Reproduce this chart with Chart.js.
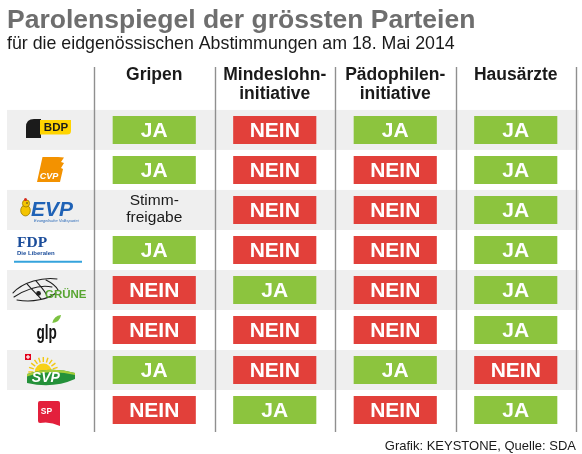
<!DOCTYPE html>
<html>
<head>
<meta charset="utf-8">
<script src="https://cdn.jsdelivr.net/npm/chart.js@4.4.1/dist/chart.umd.min.js"></script>
<style>
html,body{margin:0;padding:0;background:#fff;}
#wrap{width:582px;height:454px;}
</style>
</head>
<body>
<div id="wrap"><canvas id="c" width="582" height="454"></canvas></div>
<script>
// ---- data ----
const parties = ["BDP", "CVP", "EVP", "FDP", "GRÜNE", "glp", "SVP", "SP"];
const votes = [["Gripen"], ["Mindeslohn-", "initiative"], ["Pädophilen-", "initiative"], ["Hausärzte"]];
const gripen      = ["JA", "JA", "Stimmfreigabe", "JA", "NEIN", "NEIN", "JA", "NEIN"];
const mindestlohn = ["NEIN", "NEIN", "NEIN", "NEIN", "JA", "NEIN", "NEIN", "JA"];
const paedophilen = ["JA", "NEIN", "NEIN", "NEIN", "NEIN", "NEIN", "JA", "NEIN"];
const hausaerzte  = ["JA", "JA", "JA", "JA", "JA", "JA", "NEIN", "JA"];
const paroleLabels = { JA: ["JA"], NEIN: ["NEIN"], Stimmfreigabe: ["Stimm-", "freigabe"] };
const titleText = "Parolenspiegel der grössten Parteien";
const subtitleText = "für die eidgenössischen Abstimmungen am 18. Mai 2014";
const sourceText = "Grafik: KEYSTONE, Quelle: SDA";
const logoSubtexts = { EVP: "Evangelische Volkspartei", FDP: "Die Liberalen" };

// ---- styles ----
const FONT = "'Liberation Sans', Arial, Helvetica, sans-serif";
const SERIF = "'Liberation Serif', 'Times New Roman', serif";
const colorFor = { JA: "#8cc43e", NEIN: "#e2403a", Stimmfreigabe: "rgba(0,0,0,0)" };
const BAR_HALF = 0.345;
const series = [gripen, mindestlohn, paedophilen, hausaerzte];

function txt(ctx, s, x, y, font, color, align, base) {
  ctx.font = font; ctx.fillStyle = color;
  ctx.textAlign = align || "center"; ctx.textBaseline = base || "middle";
  ctx.fillText(s, x, y);
}
function poly(ctx, cx, cy, pts, color) {
  ctx.fillStyle = color; ctx.beginPath();
  pts.forEach((p, i) => i ? ctx.lineTo(cx + p[0], cy + p[1]) : ctx.moveTo(cx + p[0], cy + p[1]));
  ctx.closePath(); ctx.fill();
}

const logos = {
  BDP(ctx, cx, cy, name) {
    ctx.fillStyle = "#1b1b1b";
    ctx.beginPath();
    ctx.moveTo(cx - 22, cy + 8); ctx.lineTo(cx - 22, cy - 3);
    ctx.quadraticCurveTo(cx - 22, cy - 11, cx - 14, cy - 11);
    ctx.lineTo(cx - 7, cy - 11); ctx.lineTo(cx - 7, cy + 8); ctx.closePath(); ctx.fill();
    ctx.fillStyle = "#ffd400";
    ctx.beginPath();
    ctx.moveTo(cx - 8, cy - 10); ctx.lineTo(cx + 23, cy - 10); ctx.lineTo(cx + 23, cy + 1);
    ctx.quadraticCurveTo(cx + 23, cy + 4.5, cx + 19, cy + 4.5);
    ctx.lineTo(cx - 8, cy + 4.5); ctx.closePath(); ctx.fill();
    txt(ctx, name, cx + 8, cy - 2.5, "bold 11.5px " + FONT, "#1b1b1b");
  },
  CVP(ctx, cx, cy, name) {
    poly(ctx, cx, cy, [[-5.5, -13], [10, -13], [16, -12.5], [13, -8], [16, -7], [13, -2], [15, -1], [12, 12], [-11, 12]], "#f39200");
    txt(ctx, name, cx + 1, cy + 7, "italic bold 9px " + FONT, "#ffffff");
  },
  EVP(ctx, cx, cy, name) {
    ctx.fillStyle = "#f4c400"; ctx.strokeStyle = "#9a7a00"; ctx.lineWidth = 0.8;
    ctx.beginPath(); ctx.ellipse(cx - 22.5, cy + 0.5, 4.8, 5.5, 0, 0, Math.PI * 2); ctx.fill(); ctx.stroke();
    ctx.beginPath(); ctx.arc(cx - 22, cy - 6.5, 3.6, 0, Math.PI * 2); ctx.fill(); ctx.stroke();
    ctx.fillStyle = "#d62b1e"; ctx.beginPath(); ctx.arc(cx - 22.5, cy - 10.5, 1.5, 0, Math.PI * 2); ctx.fill();
    ctx.fillStyle = "#333"; ctx.beginPath(); ctx.arc(cx - 21, cy - 7, 0.8, 0, Math.PI * 2); ctx.fill();
    txt(ctx, name, cx - 17, cy + 0.5, "italic bold 21px " + FONT, "#1f62b6", "left");
    txt(ctx, logoSubtexts[name], cx - 14, cy + 11, "italic 4px " + FONT, "#1f62b6", "left");
  },
  FDP(ctx, cx, cy, name) {
    txt(ctx, name, cx - 31, cy - 2.7, "bold 15.5px " + SERIF, "#1a4c9a", "left", "alphabetic");
    txt(ctx, logoSubtexts[name], cx - 31, cy + 3.5, "bold 6px " + FONT, "#1a4c9a", "left");
    ctx.strokeStyle = "#35a3dc"; ctx.lineWidth = 2;
    ctx.beginPath(); ctx.moveTo(cx - 34, cy + 11.7); ctx.lineTo(cx + 34, cy + 11.7); ctx.stroke();
  },
  "GRÜNE"(ctx, cx, cy, name) {
    ctx.strokeStyle = "#1e1e1e"; ctx.lineWidth = 1.1; ctx.lineCap = "round";
    const curves = [
      [-35, 3, -25, -8, -5, -13, 9, -11],
      [-34, 7, -20, -2, -6, -5, 4, -3],
      [-31, 10, -15, 13, 0, 9, 8, 3],
      [-21, -6, -16, 0, -11, 4, -7, 9],
      [-12, -9, -8, -4, -4, 0, -2, 4],
      [-2, -10, 4, -7, 8, -4, 10, 0]
    ];
    curves.forEach(c => {
      ctx.beginPath(); ctx.moveTo(cx + c[0], cy + c[1]);
      ctx.bezierCurveTo(cx + c[2], cy + c[3], cx + c[4], cy + c[5], cx + c[6], cy + c[7]); ctx.stroke();
    });
    ctx.fillStyle = "#1e1e1e"; ctx.beginPath(); ctx.arc(cx - 9.5, cy + 3.5, 2.4, 0, Math.PI * 2); ctx.fill();
    txt(ctx, name, cx - 3, cy + 4.7, "bold 11.5px " + FONT, "#58a531", "left");
  },
  glp(ctx, cx, cy, name) {
    ctx.save(); ctx.translate(cx - 1.3, cy + 9.3); ctx.scale(0.68, 1);
    txt(ctx, name, 0, 0, "bold 20px " + FONT, "#141414", "center", "alphabetic");
    ctx.restore();
    ctx.save(); ctx.translate(cx + 8.7, cy - 11); ctx.rotate(-0.75);
    ctx.fillStyle = "#7cc242"; ctx.beginPath();
    ctx.moveTo(-6, 0); ctx.quadraticCurveTo(0, -4.5, 6, 0); ctx.quadraticCurveTo(0, 4.5, -6, 0); ctx.fill();
    ctx.restore();
  },
  SVP(ctx, cx, cy, name) {
    ctx.strokeStyle = "#f2c811"; ctx.lineWidth = 1.4;
    for (let k = 0; k <= 10; k++) {
      const a = Math.PI + k * Math.PI / 10;
      ctx.beginPath();
      ctx.moveTo(cx - 4.7 + Math.cos(a) * 10, cy + 2 + Math.sin(a) * 10);
      ctx.lineTo(cx - 4.7 + Math.cos(a) * 15, cy + 2 + Math.sin(a) * 15);
      ctx.stroke();
    }
    ctx.fillStyle = "#f7d117"; ctx.beginPath(); ctx.arc(cx - 4.7, cy + 2, 8.5, Math.PI, 0); ctx.fill();
    ctx.fillStyle = "#e2001a"; ctx.fillRect(cx - 23, cy - 16, 6, 6);
    ctx.fillStyle = "#fff"; ctx.fillRect(cx - 20.6, cy - 15, 1.2, 4); ctx.fillRect(cx - 22, cy - 13.6, 4, 1.2);
    ctx.fillStyle = "#24913a"; ctx.beginPath();
    ctx.moveTo(cx - 21, cy + 4); ctx.quadraticCurveTo(cx + 3, cy - 4, cx + 27, cy + 3);
    ctx.lineTo(cx + 27, cy + 9); ctx.quadraticCurveTo(cx + 5, cy + 19, cx - 21, cy + 13); ctx.closePath(); ctx.fill();
    ctx.fillStyle = "#a4cd39"; ctx.beginPath();
    ctx.moveTo(cx - 21, cy + 4); ctx.quadraticCurveTo(cx + 3, cy - 4, cx + 27, cy + 3);
    ctx.lineTo(cx + 27, cy + 5); ctx.quadraticCurveTo(cx + 3, cy - 1, cx - 21, cy + 6.5); ctx.closePath(); ctx.fill();
    txt(ctx, name, cx - 2.2, cy + 8, "italic bold 14px " + FONT, "#ffffff");
  },
  SP(ctx, cx, cy, name) {
    ctx.fillStyle = "#e3203c"; ctx.beginPath();
    ctx.moveTo(cx - 8, cy - 9); ctx.lineTo(cx + 10, cy - 9); ctx.quadraticCurveTo(cx + 12, cy - 9, cx + 12, cy - 7);
    ctx.lineTo(cx + 12, cy + 16); ctx.quadraticCurveTo(cx + 2, cy + 11, cx - 8, cy + 13);
    ctx.quadraticCurveTo(cx - 10, cy + 13, cx - 10, cy + 11); ctx.lineTo(cx - 10, cy - 7);
    ctx.quadraticCurveTo(cx - 10, cy - 9, cx - 8, cy - 9); ctx.closePath(); ctx.fill();
    txt(ctx, name, cx - 1.5, cy + 1.5, "bold 8.5px " + FONT, "#ffffff");
  }
};

const tablePlugin = {
  id: "tablePlugin",
  beforeDraw(chart) {
    const { ctx, scales: { x, y } } = chart;
    ctx.save();
    ctx.fillStyle = "#ffffff"; ctx.fillRect(0, 0, chart.width, chart.height);
    const rowH = y.getPixelForValue(1) - y.getPixelForValue(0);
    parties.forEach((p, i) => {
      if (i % 2 === 0) {
        const c = y.getPixelForValue(i);
        ctx.fillStyle = "#efefef";
        ctx.fillRect(7, c - rowH / 2, x.right + 3 - 7, rowH);
      }
    });
    ctx.restore();
  },
  beforeDatasetsDraw(chart) {
    const { ctx, scales: { x, y }, chartArea } = chart;
    ctx.save();
    ctx.strokeStyle = "#8f8f8f"; ctx.lineWidth = 1.4;
    for (let j = 0; j <= votes.length; j++) {
      const px = Math.round(x.getPixelForValue(j - 0.5)) + 0.5;
      ctx.beginPath(); ctx.moveTo(px, x.top + 1); ctx.lineTo(px, chartArea.bottom + 2); ctx.stroke();
    }
    const lcx = 48;
    parties.forEach((p, i) => {
      const cy = y.getPixelForValue(i);
      ctx.save();
      logos[p](ctx, lcx, cy, p);
      ctx.restore();
    });
    ctx.restore();
  },
  afterDatasetsDraw(chart) {
    const { ctx } = chart;
    ctx.save();
    chart.data.datasets.forEach((ds, j) => {
      const meta = chart.getDatasetMeta(j);
      meta.data.forEach((el, i) => {
        const { x: ex, y: ey, base } = el.getProps(["x", "y", "base"], true);
        const cxp = (ex + base) / 2;
        const v = series[j][i];
        const lines = paroleLabels[v];
        if (v === "Stimmfreigabe") {
          txt(ctx, lines[0], cxp, ey - 5, "15.5px " + FONT, "#1a1a1a", "center", "alphabetic");
          txt(ctx, lines[1], cxp, ey + 12, "15.5px " + FONT, "#1a1a1a", "center", "alphabetic");
        } else {
          txt(ctx, lines[0], cxp, ey + 1, "bold 21px " + FONT, "#ffffff");
        }
      });
    });
    ctx.restore();
  },
  afterDraw(chart) {
    const { ctx } = chart;
    ctx.save();
    txt(ctx, sourceText, 576, 450, "13px " + FONT, "#1a1a1a", "right", "alphabetic");
    ctx.restore();
  }
};

const datasets = series.map((s, j) => ({
  label: votes[j].join(" "),
  data: s.map(() => [j - BAR_HALF, j + BAR_HALF]),
  backgroundColor: s.map(v => colorFor[v]),
  borderWidth: 0,
  grouped: false,
  barPercentage: 0.7,
  categoryPercentage: 1
}));

new Chart(document.getElementById("c"), {
  type: "bar",
  data: { labels: parties, datasets },
  options: {
    indexAxis: "y",
    responsive: false,
    animation: false,
    layout: { padding: { left: 7, right: 6, top: 0, bottom: 24 } },
    plugins: {
      legend: { display: false },
      tooltip: { enabled: false },
      title: {
        display: true, text: titleText, align: "start", color: "#6e6e6e",
        font: { family: FONT, size: 26.5, weight: "bold", lineHeight: 1.0 },
        padding: { top: 7.2, bottom: 0 }
      },
      subtitle: {
        display: true, text: subtitleText, align: "start", color: "#1a1a1a",
        font: { family: FONT, size: 17.8, weight: "normal", lineHeight: 1.0 },
        padding: { top: 1.5, bottom: 12.9 }
      }
    },
    scales: {
      x: {
        type: "linear", position: "top", min: -0.5, max: 3.5,
        afterBuildTicks: s => { s.ticks = votes.map((_, j) => ({ value: j })); },
        afterFit: s => { s.height = 44; },
        grid: { display: false, drawTicks: false },
        border: { display: false },
        ticks: {
          autoSkip: false, maxRotation: 0, minRotation: 0, padding: 6,
          color: "#1a1a1a",
          font: { family: FONT, size: 17.5, weight: "bold", lineHeight: 1.1 },
          callback: v => { const l = votes[v] || []; return l.length < 2 ? [...l, ""] : l; }
        }
      },
      y: {
        type: "category", offset: true,
        afterFit: s => { s.width = 87; },
        grid: { display: false },
        border: { display: false },
        ticks: { display: false }
      }
    }
  },
  plugins: [tablePlugin]
});
</script>
</body>
</html>
